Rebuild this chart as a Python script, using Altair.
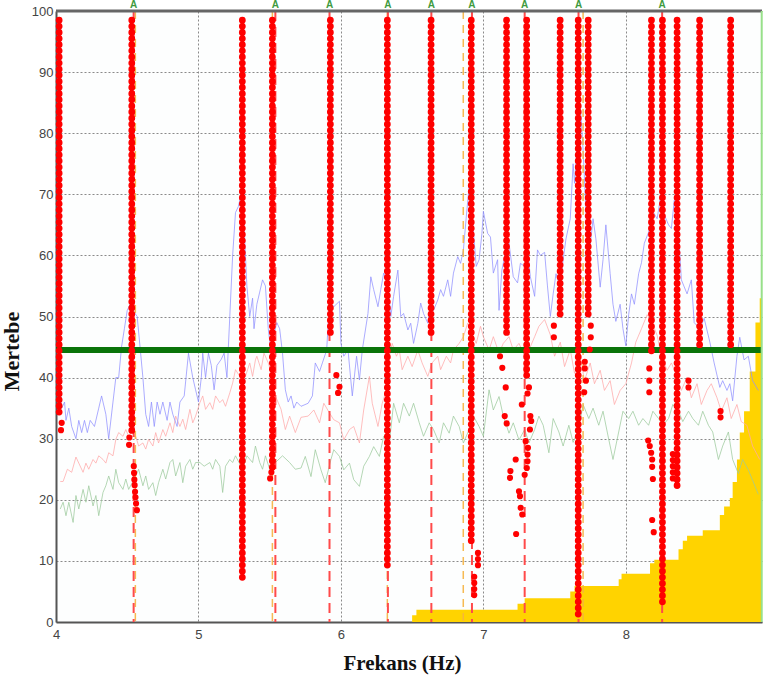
import altair as alt
import pandas as pd

X_MAX = 8.956
THRESHOLD = 44.5
TOP_DOT = 98.5

x_ticks = [4, 5, 6, 7, 8]
y_ticks = [0, 10, 20, 30, 40, 50, 60, 70, 80, 90, 100]

blue = [(4.02,41),(4.04,35),(4.06,36),(4.07,33),(4.09,35),(4.11,32),(4.14,30),(4.16,33),(4.18,31),(4.20,33),
        (4.22,31),(4.24,33),(4.27,32),(4.30,35),(4.32,37),(4.35,34),(4.37,30),(4.40,36),(4.42,40),(4.44,40),
        (4.46,45),(4.48,48),(4.50,51),(4.52,52),(4.54,51),(4.57,50),(4.59,45),(4.61,40),(4.63,34),(4.65,32),
        (4.67,36),(4.69,32),(4.71,36),(4.73,34),(4.75,36),(4.78,33),(4.80,36),(4.82,34),(4.85,32),(4.87,36),
        (4.90,37),(4.93,44),(4.96,40),(4.98,38),(5.00,36),(5.02,40),(5.03,44),(5.05,40),(5.07,44),(5.09,42),
        (5.11,38),(5.13,42),(5.16,43),(5.18,44),(5.20,40),(5.22,50),(5.24,60),(5.26,67),(5.28,68),(5.30,70),
        (5.32,65),(5.34,55),(5.36,50),(5.38,53),(5.39,48),(5.41,52),(5.43,54),(5.45,56),(5.47,55),(5.49,48),
        (5.51,44),(5.53,47),(5.55,49),(5.57,48),(5.59,44),(5.61,38),(5.63,36),(5.65,37),(5.67,35),(5.69,36),
        (5.72,35.3),(5.77,35.8),(5.80,37),(5.82,42.4),(5.85,41),(5.87,42.4),(5.90,44.5),(5.92,52.5),(5.95,51.6),
        (5.99,52.5),(6.00,45.6),(6.02,43.5),(6.05,44.5),(6.08,37),(6.11,43.5),(6.13,39.6),(6.15,44.5),(6.19,50.5),
        (6.21,56.5),(6.23,54.4),(6.26,51.6),(6.28,54.4),(6.30,57.1),(6.33,55.5),(6.35,50),(6.37,53.3),(6.40,57.6),
        (6.42,50),(6.44,50.5),(6.47,47.8),(6.49,48.9),(6.51,45.6),(6.54,48.9),(6.56,52.2),(6.58,50.5),(6.61,48.9),
        (6.63,52.2),(6.65,51),(6.68,52.7),(6.70,54.4),(6.72,53.3),(6.75,56),(6.77,53.3),(6.79,57.1),(6.82,59.8),
        (6.84,58.7),(6.86,60.9),(6.88,66.3),(6.90,71.3),(6.92,66.9),(6.95,58.2),(6.97,59.3),(6.99,63.6),(7.00,67.2),
        (7.03,63.6),(7.05,63),(7.07,57.1),(7.10,59.3),(7.11,51),(7.13,57.6),(7.16,60.9),(7.18,62),(7.21,56.5),
        (7.24,55.5),(7.26,58.7),(7.29,58.2),(7.31,60.9),(7.33,56.5),(7.36,53.3),(7.38,60.9),(7.40,60),(7.43,60.5),
        (7.45,55),(7.47,50),(7.49,53.7),(7.51,57),(7.54,54.8),(7.56,59.3),(7.58,62.7),(7.61,66),(7.63,75),
        (7.64,71.8),(7.67,82),(7.68,84.7),(7.70,77.4),(7.72,67.2),(7.75,61.6),(7.77,66),(7.79,62.7),(7.82,54.8),
        (7.84,59.3),(7.86,65),(7.89,57),(7.91,52),(7.93,49.2),(7.96,52),(7.98,48),(8.00,45.2),(8.02,50.3),
        (8.04,53.7),(8.06,52),(8.09,57),(8.11,58.8),(8.13,62),(8.16,63.8),(8.19,67.2),(8.22,66),(8.24,69),
        (8.26,67.2),(8.30,65),(8.32,64.4),(8.34,69),(8.37,63.8),(8.39,56),(8.43,53.7),(8.46,56),(8.48,49),
        (8.52,48),(8.55,49.7),(8.59,45.8),(8.62,42.4),(8.66,38.4),(8.68,39.5),(8.71,37.9),(8.73,39),(8.75,36.2),
        (8.78,43.5),(8.80,46.6),(8.83,42.9),(8.86,43.5),(8.89,39.5),(8.93,37.9)]

red = [(4.03,23),(4.05,23),(4.08,25),(4.11,24.5),(4.14,27),(4.16,26),(4.19,24.5),(4.21,26),(4.23,25),(4.26,26.6),
       (4.28,26),(4.30,27.2),(4.33,26.6),(4.35,26),(4.37,27.7),(4.40,27.2),(4.42,29.9),(4.44,31),(4.47,30.4),
       (4.49,31.5),(4.51,30.4),(4.56,30.4),(4.58,28.8),(4.61,29.3),(4.63,28.3),(4.65,29.9),(4.68,28.8),(4.70,31),
       (4.72,29.3),(4.75,31.5),(4.77,30.4),(4.80,32.6),(4.82,31),(4.84,33.7),(4.87,32),(4.89,33.2),(4.91,31.5),
       (4.94,34.8),(4.96,32.6),(4.98,33.7),(5.01,35.9),(5.03,37),(5.05,34.8),(5.08,35.9),(5.10,34.8),(5.12,37),
       (5.15,35.9),(5.17,36.4),(5.19,35.3),(5.22,37.5),(5.24,39.1),(5.26,41.3),(5.29,40.2),(5.33,40.2),(5.36,42.4),
       (5.38,40.2),(5.40,42.9),(5.41,43.5),(5.44,41.3),(5.46,44),(5.49,42.4),(5.52,40.2),(5.54,37),(5.58,34.8),
       (5.61,31.5),(5.64,33.7),(5.68,31),(5.72,33.5),(5.77,33.7),(5.81,34.7),(5.85,32.6),(5.88,35.8),(5.92,34.2),
       (5.95,33.1),(5.99,32.6),(6.02,29.8),(6.06,31.5),(6.09,32),(6.13,29.3),(6.16,34.7),(6.20,40.2),(6.22,35.8),
       (6.26,32),(6.29,35.8),(6.32,38),(6.34,43.5),(6.36,45.6),(6.39,43.5),(6.41,44.5),(6.43,41.3),(6.47,43.5),
       (6.50,41.8),(6.54,44.5),(6.57,42.4),(6.61,40.2),(6.64,42.4),(6.68,43.5),(6.70,41.3),(6.74,43.5),(6.77,42.4),
       (6.79,44.5),(6.83,45.6),(6.86,46.7),(6.89,48.9),(6.91,47.8),(6.95,45.6),(6.98,48.4),(7.00,46.7),(7.04,44.5),
       (7.07,46.7),(7.11,44),(7.14,45.6),(7.18,46.7),(7.21,44.5),(7.25,45.6),(7.29,43.5),(7.32,44.5),(7.36,46.7),
       (7.39,48.4),(7.43,49.5),(7.47,47),(7.50,43.5),(7.54,45.8),(7.57,41.8),(7.61,44.6),(7.64,40.7),(7.68,43.5),
       (7.71,39.5),(7.75,42.4),(7.78,39),(7.82,41.2),(7.85,37.9),(7.89,39.5),(7.92,35.6),(7.96,37.9),(8.00,39),
       (8.04,42.4),(8.07,45.8),(8.11,48),(8.15,50.3),(8.18,49.2),(8.22,46.9),(8.25,43.5),(8.29,41.2),(8.32,42.4),
       (8.36,40.1),(8.39,37.9),(8.43,40.1),(8.46,36.7),(8.50,39),(8.53,35.6),(8.57,37.9),(8.60,39),(8.64,36.7),
       (8.67,34.5),(8.71,36.7),(8.74,33.3),(8.78,35.6),(8.81,32.8),(8.85,32.2),(8.89,28.8),(8.94,26.6)]

green = [(4.03,18.5),(4.05,19.6),(4.07,17.4),(4.09,19.6),(4.12,16.3),(4.14,20.7),(4.16,18.5),(4.19,21.7),(4.21,19.6),
         (4.23,22.3),(4.26,19),(4.28,20.7),(4.30,17.4),(4.33,21.2),(4.35,22.3),(4.37,23.9),(4.40,21.7),(4.42,25),
         (4.44,22.8),(4.47,21.7),(4.49,23.4),(4.51,21.7),(4.56,23.9),(4.58,25),(4.61,22.3),(4.63,23.9),(4.65,21.7),
         (4.68,22.8),(4.70,20.7),(4.72,22.8),(4.75,25),(4.77,23.4),(4.80,26.1),(4.82,26.6),(4.84,23.9),(4.87,26.1),
         (4.89,22.8),(4.91,25.5),(4.94,26.6),(4.96,25),(4.98,26.1),(5.01,26.1),(5.04,25.5),(5.08,26.1),(5.10,25),
         (5.12,26.6),(5.15,25.5),(5.17,21.2),(5.19,25.5),(5.22,26.6),(5.24,26.1),(5.26,27.2),(5.31,25),(5.34,27.2),
         (5.38,26.1),(5.40,28.8),(5.43,26.1),(5.45,25),(5.47,27.2),(5.50,25),(5.54,26.1),(5.59,27.2),(5.64,26.1),
         (5.68,25),(5.72,25.2),(5.75,27.1),(5.79,23.8),(5.82,28.2),(5.86,24.9),(5.89,22.8),(5.93,26.6),(5.95,28.2),
         (5.99,27.1),(6.02,24.9),(6.06,26),(6.09,23.3),(6.13,22.2),(6.16,25.5),(6.20,27.1),(6.23,28.7),(6.27,27.1),
         (6.30,30.4),(6.34,29.3),(6.37,35.8),(6.41,32.6),(6.44,35.8),(6.48,33.7),(6.51,35.8),(6.55,32.6),(6.58,30.4),
         (6.62,32.6),(6.65,31.5),(6.69,29.3),(6.72,32.6),(6.76,30.9),(6.79,33.7),(6.83,32),(6.86,29.3),(6.90,31.5),
         (6.93,33.7),(6.97,32),(7.00,30.4),(7.04,38),(7.07,34.7),(7.11,36.9),(7.14,33.7),(7.18,30.9),(7.21,32.6),
         (7.25,29.8),(7.29,31.5),(7.32,29.3),(7.36,31.5),(7.39,33.7),(7.42,32.2),(7.46,27.7),(7.49,33.3),(7.53,31.1),
         (7.56,28.8),(7.60,32.2),(7.63,29.4),(7.67,31.6),(7.70,35.6),(7.74,33.3),(7.77,35),(7.81,32.2),(7.84,34.5),
         (7.88,29.9),(7.91,26.6),(7.95,31.1),(7.98,34.5),(8.02,33.3),(8.05,34.5),(8.09,32.2),(8.12,33.3),(8.16,32.2),
         (8.19,34.5),(8.23,33.3),(8.26,32.2),(8.30,33.3),(8.33,35.6),(8.37,34.5),(8.40,32.8),(8.44,34.5),(8.47,33.3),
         (8.51,32.2),(8.54,34.5),(8.58,32.2),(8.61,31.1),(8.65,26.6),(8.68,28.8),(8.72,31.1),(8.75,26.6),(8.79,24.3),
         (8.82,26.6),(8.86,24.9),(8.89,23.2),(8.93,20.9)]

yellow = [(6.50,1.1),(6.53,2.0),(7.24,3.0),(7.29,3.9),(7.61,5.0),(7.64,5.9),(7.95,7.0),(7.97,7.9),(8.17,9.6),
          (8.20,10.2),(8.37,11.9),(8.40,13.3),(8.43,14.1),(8.54,15.0),(8.66,17.5),(8.69,18.9),(8.73,20.3),
          (8.75,22.9),(8.78,26.6),(8.80,31.0),(8.83,34.5),(8.87,41.0),(8.91,49.0),(8.94,53.0),(8.956,54.0)]

col_hz = [4.022, 4.532, 5.308, 5.519, 5.926, 6.326, 6.633, 6.915, 7.163, 7.304,
          7.539, 7.666, 7.736, 8.180, 8.257, 8.360, 8.518, 8.736]
col_bottom = [34.5, 31.5, 7.5, 25.5, 47.5, 9.5, 47.5, 13.5, 47.5, 40.5,
              50.5, 1.5, 50.5, 44.5, 3.5, 22.5, 45.5, 45.5]

extra_dots = [(4.04,32.6),(4.035,31.4),(4.515,30.2),(4.513,29.0),
              (4.546,25.5),(4.548,24.4),(4.55,23.3),(4.552,22.4),(4.555,21.3),(4.558,20.4),(4.562,19.4),(4.568,18.3),
              (5.512,24.5),(5.503,23.5),
              (5.968,40.4),(5.99,38.5),(5.98,37.5),
              (6.962,11.3),(6.962,10.3),(6.962,9.3),(6.936,7.4),(6.936,6.4),(6.936,5.4),(6.936,4.4),
              (7.117,43.5),(7.133,41.6),(7.157,38.4),(7.15,33.7),(7.164,32.5),(7.227,26.6),(7.19,24.7),(7.187,23.6),
              (7.25,21.4),(7.257,20.6),(7.262,18.7),(7.273,17.6),(7.23,14.4),
              (7.32,38.4),(7.31,37.4),(7.27,35.6),(7.33,33.7),(7.336,32.9),(7.327,31.5),(7.297,29.6),(7.313,28.5),
              (7.31,27.4),(7.31,26.3),(7.305,25.2),(7.29,24.1),
              (7.495,48.5),(7.495,46.6),
              (7.754,48.5),(7.754,46.6),(7.747,44.6),(7.712,42.6),(7.712,41.5),(7.72,39.5),(7.708,37.6),
              (8.165,41.5),(8.165,39.5),(8.165,37.6),(8.157,29.7),(8.168,28.8),(8.178,27.7),(8.185,26.6),(8.185,25.4),
              (8.19,23.4),(8.185,16.7),(8.196,14.7),
              (8.33,27.5),(8.33,26.5),(8.33,25.5),(8.33,24.5),(8.33,23.5),
              (8.44,39.5),(8.44,38.4),(8.665,34.5),(8.665,33.5)]

a_hz = [4.545, 5.54, 5.92, 6.33, 6.635, 6.92, 7.29, 7.668, 8.255]
a_label = ["A", "A", "A", "A", "A", "A", "A", "A", "A"]
orange_hz = [4.557, 5.519, 6.326, 6.859, 7.70]

xs = alt.Scale(domain=[4, X_MAX], nice=False, zero=False)
ys = alt.Scale(domain=[0, 100], nice=False, zero=True)

x_axis = alt.Axis(values=x_ticks, format="d", title="Frekans (Hz)", labelPadding=6, titlePadding=11,
                  labelFlush=False, grid=True, titleFontSize=21, titleX=346, titleAnchor="middle")
y_axis = alt.Axis(values=y_ticks, format="d", title="Mertebe", labelPadding=3, titlePadding=8, grid=True,
                  titleFontSize=22, titleY=340)


def pairs(p):
    return pd.DataFrame({"hz": [a for a, b in p], "v": [b for a, b in p]})


def X(field="hz:Q"):
    return alt.X(field, scale=xs, axis=x_axis)


def Y(field="v:Q"):
    return alt.Y(field, scale=ys, axis=y_axis)


def Ydatum(val):
    return alt.Y(datum=val, scale=ys, axis=y_axis)


area = alt.Chart(pairs(yellow)).mark_area(interpolate="step-after", color="#FFD300", opacity=1).encode(
    x=X(), y=Y())


def line(p, color):
    return alt.Chart(pairs(p)).mark_line(color=color, strokeWidth=1, opacity=0.75).encode(x=X(), y=Y())


green_line = line(green, "#9cc99c")
red_line = line(red, "#ffa8a8")
blue_line = line(blue, "#9090ff")

orange_rules = alt.Chart(pd.DataFrame({"hz": orange_hz})).mark_rule(
    color="#f5b340", strokeWidth=1.5, strokeDash=[8, 6], opacity=0.9).encode(
    x=X(), y=Ydatum(100), y2=alt.datum(0))

red_rules = alt.Chart(pd.DataFrame({"hz": a_hz})).mark_rule(
    color="#ff4a4a", strokeWidth=2, strokeDash=[10, 6]).encode(
    x=X(), y=Ydatum(100), y2=alt.datum(0))

thr_rule = alt.Chart(pd.DataFrame({"v": [THRESHOLD]})).mark_rule(
    color="#0a740a", strokeWidth=6).encode(y=Y())

top_rule = alt.Chart(pd.DataFrame({"v": [100]})).mark_rule(
    color="#666666", strokeWidth=3).encode(y=Y())

right_rule = alt.Chart(pd.DataFrame({"hz": [X_MAX - 0.002]})).mark_rule(
    color="#98e08a", strokeWidth=2).encode(x=X())

columns = alt.Chart(pd.DataFrame({"hz": col_hz, "bottom": col_bottom})).transform_calculate(
    top=str(TOP_DOT), low="datum.bottom - 0.3").mark_rule(
    color="#ff0000", strokeWidth=6.8, strokeCap="round", strokeDash=[0.01, 6.113]).encode(
    x=X(), y=Y("top:Q"), y2="low:Q")

extras = alt.Chart(pairs(extra_dots)).mark_circle(color="#ff0000", size=38, opacity=1).encode(
    x=X(), y=Y())

a_text = alt.Chart(pd.DataFrame({"hz": a_hz, "t": a_label})).mark_text(
    color="#3e9a3e", fontSize=10, fontWeight="bold", font="Liberation Sans", baseline="alphabetic", dy=-3).encode(
    x=X(), y=Ydatum(100), text="t:N")

chart = alt.layer(
    area, green_line, red_line, blue_line, orange_rules, red_rules, thr_rule,
    columns, extras, top_rule, right_rule, a_text
).properties(
    width=706, height=611,
    autosize=alt.AutoSizeParams(type="none"),
    padding={"left": 56, "top": 11, "right": 2, "bottom": 57},
    background="#ffffff",
).configure_view(
    strokeWidth=0, fill="#fdfefe"
).configure_axis(
    gridDash=[2, 2], gridColor="#8a8a8a", gridWidth=1, gridOpacity=1,
    domainColor="#555555", domainWidth=2, ticks=False,
    labelFont="Liberation Sans", labelFontSize=13, labelColor="#444444",
    titleFont="Liberation Serif", titleFontWeight="bold", titleColor="#111111",
)

chart.save("out.html", embed_options={"renderer": "svg", "actions": False})
